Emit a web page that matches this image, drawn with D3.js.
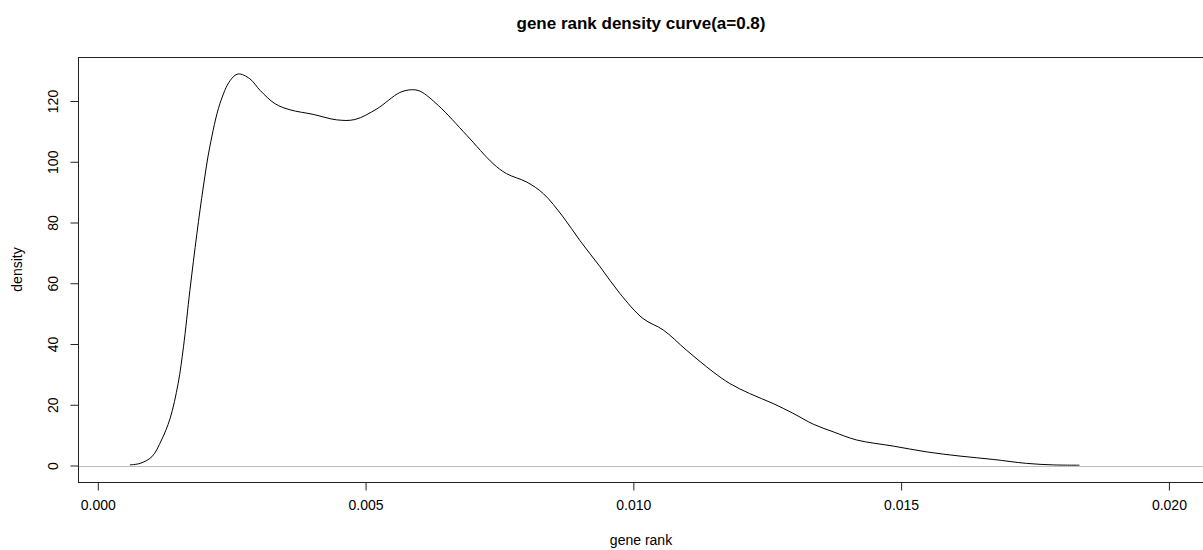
<!DOCTYPE html>
<html>
<head>
<meta charset="utf-8">
<script src="https://cdn.jsdelivr.net/npm/d3@7"></script>
<style>
  html, body { margin: 0; padding: 0; background: #fff; }
  svg { display: block; font-family: "Liberation Sans", Arial, sans-serif; }
</style>
</head>
<body>
<svg id="chart" width="1203" height="550"></svg>
<script>
// ---- data ----
const geneRank = [0.00060, 0.00079, 0.00101, 0.00119, 0.00135, 0.00150, 0.00160, 0.00172, 0.00185, 0.00197,
  0.00209, 0.00228, 0.00247, 0.00262, 0.00284, 0.00303, 0.00331, 0.00359, 0.00402, 0.00446,
  0.00480, 0.00521, 0.00564, 0.00586, 0.00602, 0.00636, 0.00689, 0.00738, 0.00763, 0.00801,
  0.00832, 0.00869, 0.00900, 0.00938, 0.00975, 0.01018, 0.01056, 0.01099, 0.01149, 0.01180,
  0.01217, 0.01261, 0.01298, 0.01336, 0.01373, 0.01417, 0.01485, 0.01547, 0.01610, 0.01672,
  0.01734, 0.01784, 0.01833];
const density = [0.2, 0.7, 2.9, 8.4, 15.5, 27.0, 39.1, 57.7, 76.3, 91.7,
  104.8, 119.1, 126.7, 128.9, 127.3, 123.5, 119.1, 117.1, 115.6, 113.8,
  113.9, 117.4, 122.8, 123.7, 123.2, 118.5, 108.7, 99.4, 96.1, 93.3,
  89.5, 81.8, 74.1, 65.4, 56.6, 48.4, 44.6, 38.0, 30.8, 27.0,
  23.7, 20.4, 17.2, 13.6, 11.1, 8.4, 6.4, 4.5, 3.1, 2.0,
  0.7, 0.2, 0.1];
const xTicks = [0, 0.005, 0.010, 0.015, 0.020];
const yTicks = [0, 20, 40, 60, 80, 100, 120];
const titleText = "gene rank density curve(a=0.8)";
const xLabel = "gene rank";
const yLabel = "density";

// ---- layout ----
const W = 1203, H = 550;
const box = { left: 78, top: 57, right: 1210, bottom: 482 };
const svg = d3.select("#chart");

const x = d3.scaleLinear().domain([0, 0.02]).range([97.8, 1168.9]);
const y = d3.scaleLinear().domain([0, 120]).range([465.5, 101]);

// zero reference line (gray)
svg.append("line")
  .attr("x1", box.left).attr("x2", W)
  .attr("y1", Math.round(y(0)) + 0.5).attr("y2", Math.round(y(0)) + 0.5)
  .attr("stroke", "#bebebe").attr("stroke-width", 1);

// density curve
const pts = geneRank.map((g, i) => [g, density[i]]);
svg.append("path")
  .datum(pts)
  .attr("fill", "none")
  .attr("stroke", "#000")
  .attr("stroke-width", 1)
  .attr("d", d3.line().x(d => x(d[0])).y(d => y(d[1])).curve(d3.curveCatmullRom.alpha(0.5)));

// box
svg.append("rect")
  .attr("x", box.left + 0.5).attr("y", box.top + 0.5)
  .attr("width", box.right - box.left).attr("height", box.bottom - box.top)
  .attr("fill", "none").attr("stroke", "#222").attr("stroke-width", 1);

// x axis
const xAxis = svg.append("g")
  .attr("transform", `translate(0,${box.bottom + 0.5})`)
  .call(d3.axisBottom(x).tickValues(xTicks).tickFormat(d3.format(".3f")).tickSize(8).tickPadding(10));
xAxis.select(".domain").remove();
xAxis.selectAll(".tick line").attr("stroke", "#222");
xAxis.selectAll("text").attr("font-size", 14).attr("fill", "#000")
  .attr("font-family", "Liberation Sans, Arial, sans-serif");

// y axis
const yAxis = svg.append("g")
  .attr("transform", `translate(${box.left + 0.5},0)`)
  .call(d3.axisLeft(y).tickValues(yTicks).tickFormat(d3.format("d")).tickSize(8));
yAxis.select(".domain").remove();
yAxis.selectAll(".tick line").attr("stroke", "#222");
yAxis.selectAll("text")
  .attr("x", 0).attr("y", 0).attr("dy", "0.35em")
  .attr("transform", "translate(-25,0) rotate(-90)")
  .attr("text-anchor", "middle")
  .attr("font-size", 14).attr("fill", "#000")
  .attr("font-family", "Liberation Sans, Arial, sans-serif");

// title
svg.append("text")
  .attr("x", 641).attr("y", 29)
  .attr("text-anchor", "middle")
  .attr("font-size", 17).attr("font-weight", "bold")
  .text(titleText);

// axis titles
svg.append("text")
  .attr("x", 641).attr("y", 545)
  .attr("text-anchor", "middle")
  .attr("font-size", 14)
  .text(xLabel);

svg.append("text")
  .attr("transform", "translate(17,269.5) rotate(-90)")
  .attr("dy", "0.35em")
  .attr("text-anchor", "middle")
  .attr("font-size", 14)
  .text(yLabel);
</script>
</body>
</html>
